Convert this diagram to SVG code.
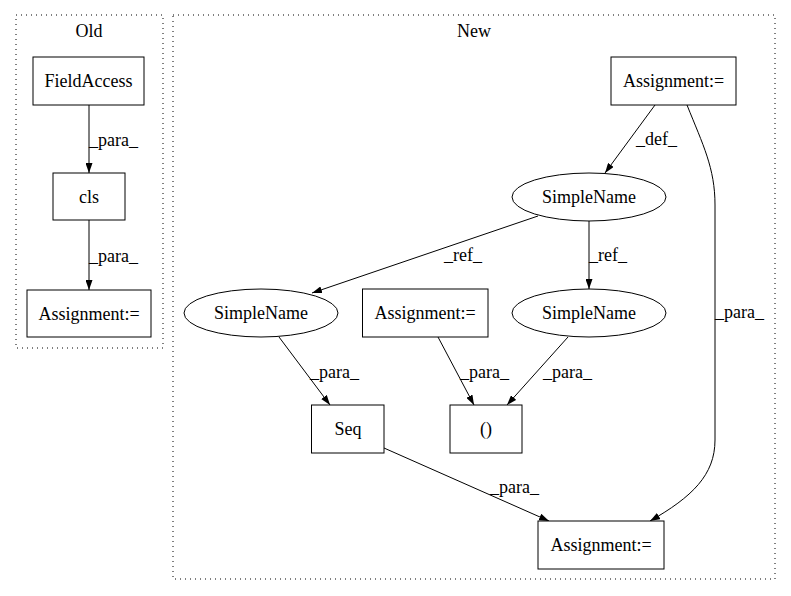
<svg xmlns="http://www.w3.org/2000/svg" width="791" height="596" viewBox="0 0 791 596">
<style>
text{font-family:"Liberation Serif","Times New Roman",serif;font-size:18px;fill:#000}
.c{text-anchor:middle}
.n{fill:#fff;stroke:#000;stroke-width:1}
.cl{fill:none;stroke:#000;stroke-width:1;stroke-dasharray:1,4}
.e{fill:none;stroke:#000;stroke-width:1;marker-end:url(#ah)}
</style>
<defs>
<marker id="ah" markerWidth="10" markerHeight="7" refX="10" refY="3.5" orient="auto" markerUnits="userSpaceOnUse">
<path d="M0,0 L10,3.5 L0,7 z" fill="#000"/>
</marker>
</defs>
<rect width="791" height="596" fill="#fff"/>
<g id="cluster_old">
<rect class="cl" x="16" y="15" width="147" height="333"/>
<text class="c" x="89" y="37">Old</text>
</g>
<g id="cluster_new">
<rect class="cl" x="173" y="15" width="602" height="564"/>
<text class="c" x="474" y="37">New</text>
</g>
<g id="edges">
<path class="e" d="M89,105 L89,173"/>
<text x="89" y="146">_para_</text>
<path class="e" d="M89,220 L89,290"/>
<text x="89" y="262">_para_</text>
<path class="e" d="M655,105 L605,173"/>
<text x="636" y="145">_def_</text>
<path class="e" d="M687,105 C703,145 715,168 715,205 L715,440 C715,475 692,497 650,521"/>
<text x="715" y="318">_para_</text>
<path class="e" d="M538,216 L312,293"/>
<text x="444" y="261">_ref_</text>
<path class="e" d="M589,221 L589,289"/>
<text x="589" y="261">_ref_</text>
<path class="e" d="M279,337 L330,405"/>
<text x="310" y="378">_para_</text>
<path class="e" d="M438,337 L474,405"/>
<text x="460" y="378">_para_</text>
<path class="e" d="M568,337 L507,405"/>
<text x="543" y="378">_para_</text>
<path class="e" d="M384,448 L549,521"/>
<text x="490" y="493">_para_</text>
</g>
<g id="n_fieldaccess">
<rect class="n" x="33" y="57" width="111" height="48"/>
<text class="c" x="88.5" y="87">FieldAccess</text>
</g>
<g id="n_cls">
<rect class="n" x="53" y="173" width="72" height="47"/>
<text class="c" x="89" y="203">cls</text>
</g>
<g id="n_assign_old">
<rect class="n" x="27" y="290" width="124" height="47"/>
<text class="c" x="89" y="320">Assignment:=</text>
</g>
<g id="n_assign_top">
<rect class="n" x="611" y="57" width="125" height="48"/>
<text class="c" x="673.5" y="87">Assignment:=</text>
</g>
<g id="n_simplename_top">
<ellipse class="n" cx="589" cy="197" rx="77" ry="24"/>
<text class="c" x="589" y="203">SimpleName</text>
</g>
<g id="n_simplename_left">
<ellipse class="n" cx="261" cy="313" rx="77" ry="24"/>
<text class="c" x="261" y="319">SimpleName</text>
</g>
<g id="n_assign_mid">
<rect class="n" x="362.5" y="289" width="125.5" height="48"/>
<text class="c" x="425" y="319">Assignment:=</text>
</g>
<g id="n_simplename_right">
<ellipse class="n" cx="589" cy="313" rx="77" ry="24"/>
<text class="c" x="589" y="319">SimpleName</text>
</g>
<g id="n_seq">
<rect class="n" x="311.5" y="405" width="72.5" height="48"/>
<text class="c" x="348" y="435">Seq</text>
</g>
<g id="n_paren">
<rect class="n" x="450" y="405" width="72" height="48"/>
<text class="c" x="486" y="435">()</text>
</g>
<g id="n_assign_bottom">
<rect class="n" x="538" y="521" width="126" height="48"/>
<text class="c" x="601" y="551">Assignment:=</text>
</g>
</svg>
